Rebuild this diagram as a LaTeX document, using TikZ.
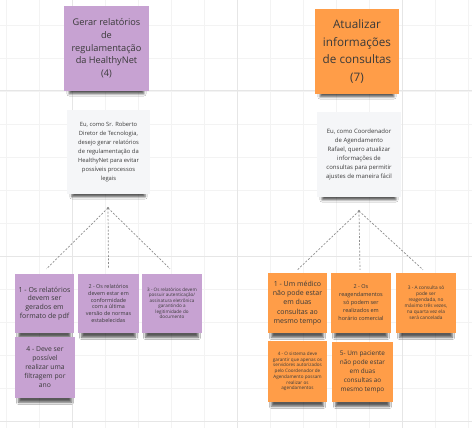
\documentclass[tikz,border=0pt]{standalone}
\usepackage{fontspec}
\setmainfont{Open Sans}
\usetikzlibrary{shadows.blur,backgrounds}
\definecolor{stickypurple}{HTML}{C7A2D2}
\definecolor{stickyorange}{HTML}{FF9D48}
\definecolor{cardwhite}{HTML}{F5F6F8}
\definecolor{inkgray}{HTML}{3A3A3A}
\definecolor{gridminor}{HTML}{F3F3F3}
\definecolor{gridmajor}{HTML}{E6E6E6}
\begin{document}
\begin{tikzpicture}[x=1pt,y=-1pt,
  sticky/.style={inner sep=1pt, align=center, text=inkgray, blur shadow={shadow xshift=0pt, shadow yshift=-9pt, shadow scale=0.88, shadow blur radius=2.5pt, shadow opacity=65}},
  purplenote/.style={sticky, fill=stickypurple},
  orangenote/.style={sticky, fill=stickyorange},
  cardnote/.style={sticky, fill=cardwhite},
  link/.style={draw=gray!90, dash pattern=on 2pt off 1.6pt, line width=0.7pt}]
\useasboundingbox[fill=white] (0,0) rectangle (472,428);
\foreach \x in {6,39,...,470} \draw[gridminor, line width=0.8pt] (\x,0) -- (\x,428);
\foreach \y in {25,58,...,428} \draw[gridminor, line width=0.8pt] (0,\y) -- (472,\y);
\foreach \x in {72,237,402} \draw[gridmajor, line width=1pt] (\x,0) -- (\x,428);
\foreach \y in {91,256,421} \draw[gridmajor, line width=1pt] (0,\y) -- (472,\y);

\node[purplenote, minimum width=85, minimum height=85, font=\fontsize{9.2}{12.7}\selectfont] (ltitle) at (106.5,48.5) {Gerar relatórios\\de\\regulamentação\\da HealthyNet\\(4)};
\node[cardnote, minimum width=83, minimum height=84, font=\fontsize{5.8}{9}\selectfont] (lstory) at (108.5,152) {Eu, como Sr. Roberto\\Diretor de Tecnologia,\\desejo gerar relatórios\\de regulamentação da\\HealthyNet para evitar\\possíveis processos\\legais};
\node[purplenote, minimum width=59, minimum height=59, font=\fontsize{7}{8.7}\selectfont] (lrule1) at (44.5,303.5) {1 - Os relatórios\\devem ser\\gerados em\\formato de pdf};
\node[purplenote, minimum width=61, minimum height=59, font=\fontsize{5.4}{6.7}\selectfont] (lrule2) at (108.5,303.5) {2 - Os relatórios\\devem estar em\\conformidade\\com a última\\versão de normas\\estabelecidas};
\node[purplenote, minimum width=60, minimum height=59, font=\fontsize{4.6}{5.5}\selectfont] (lrule3) at (172,303.5) {3 - Os relatórios devem\\possuir autenticação/\\assinatura eletrônica\\garantindo a\\legitimidade do\\documento};
\node[purplenote, minimum width=60, minimum height=61, font=\fontsize{6.8}{9}\selectfont] (lrule4) at (45,367.5) {4 - Deve ser\\possível\\realizar uma\\filtragem por\\ano};

\node[orangenote, minimum width=84, minimum height=85, font=\fontsize{11.7}{17.7}\selectfont] (rtitle) at (357,51.5) {Atualizar\\informações\\de consultas\\(7)};
\node[cardnote, minimum width=84, minimum height=85, font=\fontsize{6}{9}\selectfont] (rstory) at (359,154.5) {Eu, como Coordenador\\de Agendamento\\Rafael, quero atualizar\\informações de\\consultas para permitir\\ajustes de maneira fácil};
\node[orangenote, minimum width=59, minimum height=60, font=\fontsize{7}{9.3}\selectfont] (rrule1) at (297.5,303) {1 - Um médico\\não pode estar\\em duas\\consultas ao\\mesmo tempo};
\node[orangenote, minimum width=60, minimum height=60, font=\fontsize{5.5}{8}\selectfont] (rrule2) at (361,303) {2 - Os\\reagendamentos\\só podem ser\\realizados em\\horário comercial};
\node[orangenote, minimum width=60, minimum height=60, font=\fontsize{4.8}{6}\selectfont] (rrule3) at (426,303) {3 - A consulta só\\pode ser\\reagendada, no\\máximo três vezes,\\na quarta vez ela\\será cancelada};
\node[orangenote, minimum width=59, minimum height=61, font=\fontsize{4.6}{5.7}\selectfont] (rrule4) at (297.5,371.5) {4 - O sistema deve\\garantir que apenas os\\servidores autorizados\\pelo Coordenador de\\Agendamento possam\\realizar os\\agendamentos};
\node[orangenote, minimum width=61, minimum height=60, font=\fontsize{6.4}{9}\selectfont] (rrule5) at (362.5,372) {5- Um paciente\\não pode estar\\em duas\\consultas ao\\mesmo tempo};

\coordinate (lroot) at (108,208);
\coordinate (rroot) at (359,211);
\fill[gray] (lroot) circle (1.2);
\fill[gray] (rroot) circle (1.2);
\draw[link] (lroot) -- ([xshift=2pt,yshift=5pt]lrule1.north);
\draw[link] (lroot) -- ([yshift=6pt]lrule2.north);
\draw[link] (lroot) -- ([xshift=-2pt,yshift=5pt]lrule3.north);
\draw[link] (rroot) -- ([yshift=3pt]rrule1.north);
\draw[link] (rroot) -- ([xshift=-1pt,yshift=3pt]rrule2.north);
\draw[link] (rroot) -- ([xshift=-3pt,yshift=3pt]rrule3.north);
\end{tikzpicture}
\end{document}
